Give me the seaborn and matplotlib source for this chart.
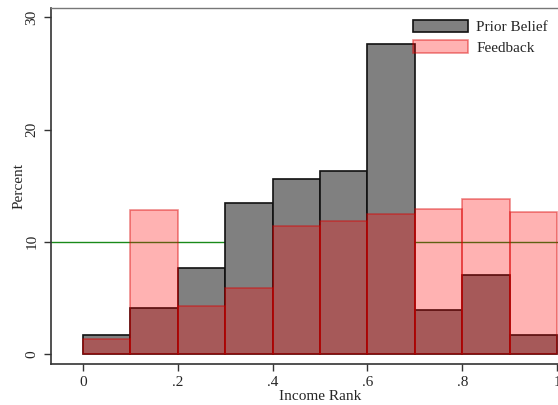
import numpy as np
import matplotlib
matplotlib.use("Agg")
import matplotlib.pyplot as plt
import seaborn as sns

# bins of income rank (0-1, width 0.1) and percent per bin
bin_edges = [0.0, 0.1, 0.2, 0.3, 0.4, 0.5, 0.6, 0.7, 0.8, 0.9, 1.0]
bin_mids = [0.05, 0.15, 0.25, 0.35, 0.45, 0.55, 0.65, 0.75, 0.85, 0.95]
prior_belief = [1.7, 4.1, 7.7, 13.45, 15.6, 16.3, 27.65, 3.9, 7.0, 1.7]
feedback = [1.3, 12.85, 4.3, 5.9, 11.4, 11.9, 12.5, 12.9, 13.8, 12.65]
ref_line = 10
x_ticks = [0, 0.2, 0.4, 0.6, 0.8, 1.0]
x_ticklabels = ["0", ".2", ".4", ".6", ".8", "1"]
y_ticks = [0, 10, 20, 30]

sns.set_style("white")
plt.rcParams['font.family'] = ['Liberation Serif', 'DejaVu Serif']

fig = plt.figure(figsize=(5.58, 4.05), dpi=100)
ax = fig.add_axes([51 / 558, 1 - 364 / 405, 538 / 558, 356 / 405])

ax.axhline(ref_line, color="#1a8a1a", lw=1.0, zorder=1)

sns.histplot(x=bin_mids, weights=prior_belief, bins=bin_edges, ax=ax,
             label="Prior Belief", color="gray")
sns.histplot(x=bin_mids, weights=feedback, bins=bin_edges, ax=ax,
             label="Feedback", color="red")

for p in ax.containers[0]:
    p.set_facecolor("#808080")
    p.set_edgecolor("#111111")
    p.set_linewidth(1.2)
    p.set_alpha(None)
    p.set_zorder(2)
for p in ax.containers[1]:
    p.set_facecolor((1, 0, 0, 0.3))
    p.set_edgecolor((0.85, 0, 0, 0.45))
    p.set_linewidth(1.2)
    p.set_zorder(3)

ax.set_xlim(-0.0675, 1.0675)
ax.set_ylim(-0.89, 30.84)
ax.set_xticks(x_ticks)
ax.set_xticklabels(x_ticklabels)
ax.set_yticks(y_ticks)
ax.set_yticklabels([str(v) for v in y_ticks], rotation=90, va="center")
ax.tick_params(axis="both", direction="out", length=5, width=1, color="#333333",
               labelsize=11, pad=4, bottom=True, left=True)

ax.set_xlabel("Income Rank", fontsize=11, labelpad=0)
ax.set_ylabel("Percent", fontsize=11, labelpad=0)

for s in ["left", "bottom"]:
    ax.spines[s].set_color("#333333")
    ax.spines[s].set_linewidth(1.2)
ax.spines["top"].set_color("#777777")
ax.spines["top"].set_linewidth(1.0)
ax.spines["right"].set_color("#777777")

leg = ax.legend(loc="upper left", bbox_to_anchor=(413 / 558, 1 - 20 / 405),
                bbox_transform=fig.transFigure, frameon=False, fontsize=11,
                handlelength=3.6, handleheight=0.85, labelspacing=0.4,
                borderpad=0, borderaxespad=0, handletextpad=0.55)
for h in leg.legend_handles:
    h.set_zorder(5)

fig.savefig("out.png", dpi=100)
